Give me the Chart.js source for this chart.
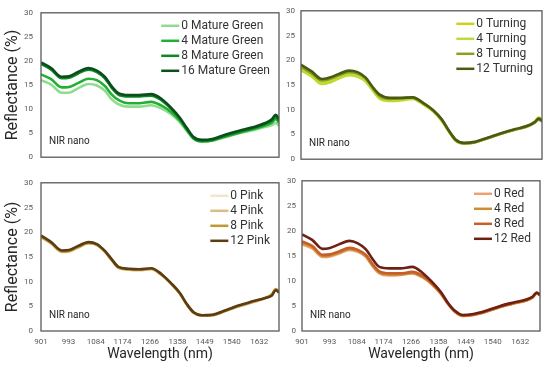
<!DOCTYPE html>
<html>
<head>
<meta charset="utf-8">
<script src="https://cdn.jsdelivr.net/npm/chart.js@4.4.0/dist/chart.umd.min.js"></script>
<style>
  body { margin:0; background:#fff; }
  #wrap { position:relative; width:550px; height:368px; overflow:hidden; }
  canvas { position:absolute; }
</style>
</head>
<body>
<div id="wrap">
  <canvas id="cTL" width="285" height="170" style="left:0;top:0"></canvas>
  <canvas id="cTR" width="265" height="170" style="left:285px;top:0"></canvas>
  <canvas id="cBL" width="285" height="198" style="left:0;top:170px"></canvas>
  <canvas id="cBR" width="265" height="198" style="left:285px;top:170px"></canvas>
</div>
<script>
// wavelengths (nm) where values were read
const wavelength = [901, 935, 970, 995, 1025, 1060, 1088, 1115, 1138, 1160, 1195, 1230, 1270, 1305, 1338, 1366, 1390, 1412, 1440, 1475, 1520, 1565, 1610, 1652, 1674, 1687, 1698];
const xTicks = [901, 993, 1084, 1174, 1266, 1358, 1449, 1540, 1632];

// Mature Green
const mgLabels = ["0 Mature Green", "4 Mature Green", "8 Mature Green", "16 Mature Green"];
const mg0  = [16.0, 15.1, 13.4, 13.4, 14.3, 15.2, 14.9, 13.8, 12.0, 11.0, 10.5, 10.5, 10.8, 10.1, 8.9, 7.3, 5.4, 3.8, 3.2, 3.4, 4.2, 5.0, 5.6, 6.3, 6.7, 7.1, 6.6];
const mg4  = [17.2, 16.2, 14.5, 14.6, 15.4, 16.3, 16.0, 14.8, 13.0, 11.9, 11.2, 11.2, 11.5, 10.7, 9.3, 7.6, 5.6, 3.9, 3.3, 3.5, 4.3, 5.1, 5.8, 6.6, 7.2, 7.9, 7.2];
const mg8  = [19.4, 18.2, 16.4, 16.5, 17.4, 18.2, 17.7, 16.4, 14.4, 13.0, 12.6, 12.6, 12.8, 11.8, 10.0, 8.0, 5.8, 4.0, 3.4, 3.6, 4.5, 5.3, 6.0, 6.9, 7.6, 8.4, 7.6];
const mg16 = [19.7, 18.5, 16.7, 16.8, 17.7, 18.5, 18.0, 16.7, 14.7, 13.3, 12.9, 12.9, 13.1, 12.1, 10.2, 8.2, 6.0, 4.2, 3.6, 3.8, 4.7, 5.5, 6.2, 7.1, 7.9, 8.8, 7.9];

// Turning
const tuLabels = ["0 Turning", "4 Turning", "8 Turning", "12 Turning"];
const tu0  = [18.0, 16.8, 15.2, 15.5, 16.3, 17.0, 16.7, 15.7, 13.9, 12.3, 11.8, 11.9, 12.2, 11.1, 9.7, 7.8, 5.6, 3.8, 3.2, 3.4, 4.3, 5.2, 6.0, 6.7, 7.6, 8.4, 8.0];
const tu4  = [18.3, 17.0, 15.5, 15.8, 16.5, 17.2, 16.9, 15.9, 14.1, 12.5, 12.0, 12.1, 12.3, 11.2, 9.8, 7.9, 5.6, 3.8, 3.2, 3.4, 4.3, 5.2, 6.0, 6.7, 7.5, 8.3, 7.9];
const tu8  = [18.7, 17.4, 15.9, 16.2, 16.9, 17.6, 17.3, 16.3, 14.4, 12.8, 12.2, 12.3, 12.5, 11.3, 9.9, 8.0, 5.7, 3.9, 3.2, 3.4, 4.3, 5.2, 6.0, 6.7, 7.4, 8.0, 7.6];
const tu12 = [19.1, 17.8, 16.2, 16.5, 17.2, 17.9, 17.6, 16.5, 14.6, 13.1, 12.4, 12.4, 12.5, 11.4, 9.9, 8.1, 5.8, 4.0, 3.3, 3.5, 4.4, 5.3, 6.1, 6.8, 7.5, 8.2, 7.8];

// Pink
const pkLabels = ["0 Pink", "4 Pink", "8 Pink", "12 Pink"];
const pk0  = [19.2, 17.9, 16.2, 16.3, 17.1, 17.9, 17.5, 16.1, 14.4, 12.9, 12.5, 12.4, 12.6, 11.4, 9.5, 7.6, 5.3, 3.8, 3.2, 3.3, 4.2, 5.1, 5.9, 6.6, 7.2, 8.2, 7.8];
const pk4  = [19.0, 17.7, 16.0, 16.1, 16.9, 17.7, 17.4, 16.0, 14.3, 12.8, 12.4, 12.3, 12.5, 11.3, 9.5, 7.6, 5.3, 3.7, 3.1, 3.2, 4.1, 5.0, 5.8, 6.6, 7.3, 8.3, 7.9];
const pk8  = [19.1, 17.8, 16.1, 16.2, 17.0, 17.8, 17.5, 16.1, 14.4, 12.9, 12.5, 12.4, 12.6, 11.4, 9.5, 7.6, 5.3, 3.7, 3.1, 3.2, 4.1, 5.1, 5.9, 6.7, 7.4, 8.5, 8.0];
const pk12 = [19.3, 18.0, 16.3, 16.4, 17.2, 18.0, 17.6, 16.2, 14.5, 13.0, 12.6, 12.5, 12.7, 11.5, 9.6, 7.7, 5.4, 3.8, 3.2, 3.3, 4.2, 5.2, 6.0, 6.7, 7.2, 8.3, 7.8];

// Red
const rdLabels = ["0 Red", "4 Red", "8 Red", "12 Red"];
const rd0  = [17.3, 16.5, 14.8, 14.9, 15.5, 16.2, 15.8, 14.8, 12.9, 11.5, 11.1, 11.2, 11.5, 10.7, 9.2, 7.4, 5.4, 3.9, 3.0, 3.2, 3.9, 4.8, 5.5, 6.1, 6.8, 7.6, 7.2];
const rd4  = [17.6, 16.8, 15.0, 15.1, 15.7, 16.4, 16.0, 15.0, 13.1, 11.7, 11.3, 11.3, 11.6, 10.8, 9.3, 7.5, 5.4, 3.9, 3.0, 3.2, 3.9, 4.8, 5.5, 6.1, 6.7, 7.5, 7.1];
const rd8  = [17.9, 17.0, 15.2, 15.3, 15.9, 16.6, 16.2, 15.2, 13.3, 11.9, 11.5, 11.5, 11.8, 11.0, 9.4, 7.6, 5.5, 4.0, 3.1, 3.3, 4.0, 4.9, 5.6, 6.2, 6.8, 7.6, 7.2];
const rd12 = [19.3, 18.2, 16.4, 16.6, 17.3, 18.0, 17.5, 16.3, 14.3, 12.8, 12.5, 12.5, 12.8, 11.6, 9.7, 7.8, 5.6, 4.1, 3.2, 3.4, 4.1, 5.0, 5.7, 6.3, 6.9, 7.7, 7.2];

const FONT = "Roboto";

const boxAndLegend = {
    id: "boxAndLegend",
    afterDatasetsDraw(chart){
        const ctx = chart.ctx;
        const a = chart.chartArea;
        ctx.save();
        ctx.strokeStyle = "#5a5a5a";
        ctx.lineWidth = 1.3;
        ctx.strokeRect(a.left, a.top, a.right - a.left, a.bottom - a.top);

        // legend (top right inside plot)
        ctx.font = "12px " + FONT;
        const ds = chart.data.datasets;
        let maxW = 0;
        ds.forEach(d => { maxW = Math.max(maxW, ctx.measureText(d.label).width); });
        const x0 = a.right - 9 - maxW - 20;
        ds.forEach((d, i) => {
            const y = a.top + 13 + i * 15;
            ctx.strokeStyle = d.borderColor;
            ctx.lineWidth = 2.5;
            ctx.beginPath();
            ctx.moveTo(x0, y);
            ctx.lineTo(x0 + 18, y);
            ctx.stroke();
            ctx.fillStyle = "#333";
            ctx.textBaseline = "middle";
            ctx.textAlign = "left";
            ctx.fillText(d.label, x0 + 20, y + 0.5);
        });

        ctx.font = "10px " + FONT;
        ctx.fillStyle = "#262626";
        ctx.fillText("NIR nano", a.left + 8, a.bottom - 16);
        ctx.restore();
    }
};

function makePanel(id, labels, series, colors, opt){
    const datasets = series.map((s, i) => ({
        label: labels[i],
        data: s.map((v, j) => ({x: wavelength[j], y: v})),
        borderColor: colors[i],
        borderWidth: 2.6,
        pointRadius: 0,
        cubicInterpolationMode: "monotone",
        order: series.length - i
    }));
    return new Chart(document.getElementById(id), {
        type: "line",
        data: { datasets },
        options: {
            responsive: false,
            animation: false,
            layout: { padding: { top: opt.top, right: opt.right, left: 0, bottom: 0 } },
            plugins: { legend: { display: false }, tooltip: { enabled: false } },
            scales: {
                x: {
                    type: "linear", min: 901, max: 1698,
                    grid: { display: false, drawTicks: false },
                    border: { display: false },
                    afterBuildTicks: s => { s.ticks = xTicks.map(v => ({ value: v })); },
                    afterFit: s => { s.height = opt.xh; },
                    ticks: { display: opt.bottom, autoSkip: false, maxRotation: 0, padding: 6,
                        callback: v => String(v),
                        color: "#595959", font: { family: FONT, size: 8 } },
                    title: { display: opt.bottom, text: "Wavelength (nm)", color: "#262626",
                        padding: { top: 0, bottom: 5 }, font: { family: FONT, size: 14 } }
                },
                y: {
                    min: 0, max: 30,
                    grid: { display: false, drawTicks: false },
                    border: { display: false },
                    afterFit: s => { s.width = opt.yw; },
                    ticks: { stepSize: 5, padding: opt.left ? 8 : 6,
                        color: "#595959", font: { family: FONT, size: 8 } },
                    title: { display: opt.left, text: "Reflectance (%)", color: "#262626",
                        padding: { top: 3, bottom: 0 }, font: { family: FONT, size: 16 } }
                }
            }
        },
        plugins: [boxAndLegend]
    });
}

makePanel("cTL", mgLabels, [mg0, mg4, mg8, mg16],
    ["#8fdc8f", "#22b034", "#0e8a25", "#0b4d1c"],
    { top: 10, right: 6, xh: 6, yw: 41, left: true, bottom: false });
makePanel("cTR", tuLabels, [tu0, tu4, tu8, tu12],
    ["#c8d41a", "#b9de3c", "#8ca020", "#4a5a14"],
    { top: 10, right: 8, xh: 9, yw: 16, left: false, bottom: false });
makePanel("cBL", pkLabels, [pk0, pk4, pk8, pk12],
    ["#f4e4cc", "#dcbb88", "#bf9a32", "#5c3c12"],
    { top: 7, right: 6, xh: 37, yw: 41, left: true, bottom: true });
makePanel("cBR", rdLabels, [rd0, rd4, rd8, rd12],
    ["#eea070", "#c99032", "#c6602a", "#6e2012"],
    { top: 7, right: 10, xh: 37, yw: 17, left: false, bottom: true });
</script>
</body>
</html>
